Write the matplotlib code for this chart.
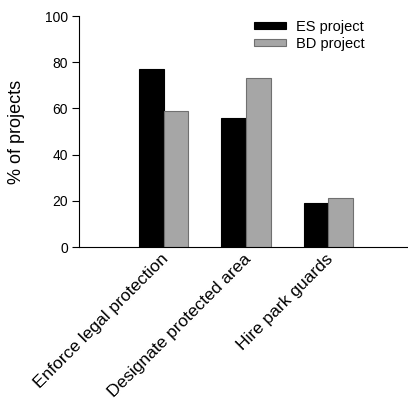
import matplotlib
matplotlib.use("Agg")
import matplotlib.pyplot as plt
import matplotlib.transforms as mtransforms
import numpy as np

plt.rcParams["font.family"] = ["Liberation Sans", "DejaVu Sans"]

categories = ["Enforce legal protection", "Designate protected area", "Hire park guards"]
es_values = [77, 56, 19]
bd_values = [59, 73, 21]
series_labels = ["ES project", "BD project"]
y_ticks = [0, 20, 40, 60, 80, 100]

W, H = 408, 401
fig = plt.figure(figsize=(W / 100, H / 100), dpi=100)
ax = fig.add_axes([79 / W, 1 - 247 / H, (W - 79) / W, (247 - 16) / H])

x = np.arange(len(categories))
bw = 0.30
ax.bar(x - bw / 2, es_values, bw, color="black", edgecolor="black", linewidth=0.8, label=series_labels[0])
ax.bar(x + bw / 2, bd_values, bw, color="#a6a6a6", edgecolor="#707070", linewidth=0.8, label=series_labels[1])

ax.set_xlim(-1.03, 2.97)
ax.set_ylim(0, 100)
ax.set_yticks(y_ticks)
ax.tick_params(axis="y", direction="out", length=5, width=0.8, labelsize=10, pad=3)
ax.set_xticks(x)
ax.set_xticklabels(categories, rotation=45, ha="right", fontsize=12.5)
ax.tick_params(axis="x", length=0, pad=3)
shift = mtransforms.ScaledTranslation(8 / 100, 0, fig.dpi_scale_trans)
for lbl in ax.get_xticklabels():
    lbl.set_transform(lbl.get_transform() + shift)

for side in ("top", "right"):
    ax.spines[side].set_visible(False)
for side in ("left", "bottom"):
    ax.spines[side].set_linewidth(0.8)

ax.set_ylabel("% of projects", fontsize=13)
ax.yaxis.set_label_coords(-0.164, 0.5)

ax.legend(
    loc="upper left",
    bbox_to_anchor=(254 / W, 1 - 20 / H),
    bbox_transform=fig.transFigure,
    frameon=False,
    fontsize=10.5,
    handlelength=2.2,
    handleheight=0.35,
    handletextpad=0.7,
    labelspacing=0.2,
    borderpad=0,
    borderaxespad=0,
)

fig.savefig("out.png", dpi=100)
